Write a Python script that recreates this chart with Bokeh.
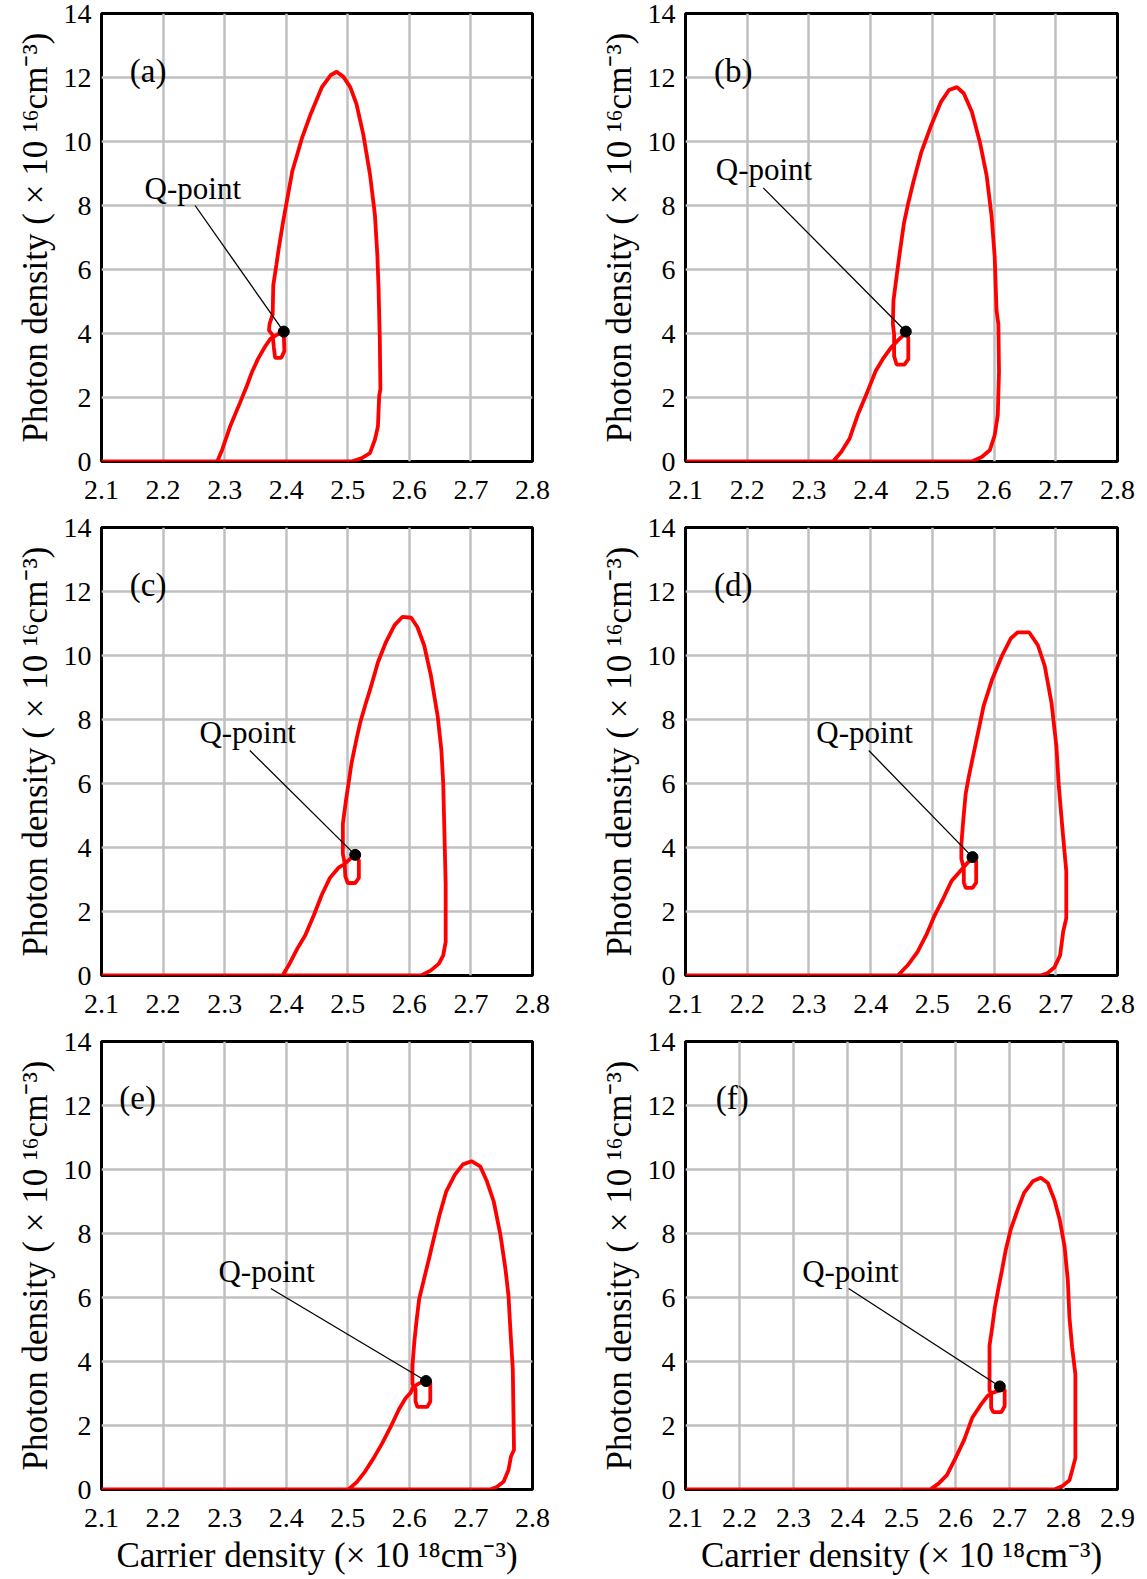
from bokeh.plotting import figure
from bokeh.layouts import column, row
from bokeh.models import FixedTicker
from bokeh.core.properties import value
from bokeh.embed import file_html
from bokeh.resources import INLINE

FONT = "Liberation Serif"

# ---------------- data ----------------
y_ticks = [0, 2, 4, 6, 8, 10, 12, 14]
x_ticks_28 = [2.1, 2.2, 2.3, 2.4, 2.5, 2.6, 2.7, 2.8]
x_ticks_29 = [2.1, 2.2, 2.3, 2.4, 2.5, 2.6, 2.7, 2.8, 2.9]

x_label = "Carrier density (\u00d7 10 \u00b9\u2078cm\u207b\u00b3)"
y_label = "Photon density ( \u00d7 10 \u00b9\u2076cm\u207b\u00b3)"
tags = ["(a)", "(b)", "(c)", "(d)", "(e)", "(f)"]

# panel (a)
xa = [2.1, 2.288, 2.296, 2.309, 2.325, 2.336, 2.344, 2.354, 2.365, 2.374, 2.386, 2.396, 2.397, 2.392,
      2.382, 2.380, 2.378, 2.372, 2.373, 2.378, 2.379, 2.384, 2.388, 2.395, 2.400, 2.410, 2.418, 2.426,
      2.440, 2.458, 2.472, 2.482, 2.493, 2.504, 2.514, 2.525, 2.536, 2.544, 2.548, 2.550, 2.552, 2.553,
      2.551, 2.549, 2.544, 2.536, 2.522, 2.506, 2.1]
ya = [0, 0, 0.37, 1.10, 1.84, 2.36, 2.78, 3.20, 3.57, 3.83, 3.97, 4.06, 3.45, 3.24,
      3.24, 3.55, 3.95, 4.10, 4.30, 4.60, 5.51, 6.14, 6.67, 7.50, 8.03, 9.08, 9.60, 10.13,
      10.87, 11.70, 12.07, 12.18, 12.02, 11.70, 11.18, 10.24, 8.98, 7.72, 6.46, 5.41, 3.83, 2.26,
      2.05, 1.10, 0.68, 0.26, 0.10, 0, 0]

# panel (b)
xb = [2.1, 2.339, 2.352, 2.366, 2.379, 2.395, 2.408, 2.421, 2.433, 2.445, 2.457, 2.461, 2.461, 2.455,
      2.442, 2.438, 2.438, 2.436, 2.437, 2.442, 2.447, 2.454, 2.461, 2.469, 2.482, 2.498, 2.514, 2.527,
      2.540, 2.551, 2.564, 2.577, 2.588, 2.596, 2.601, 2.604, 2.607, 2.608, 2.606, 2.601, 2.593, 2.580,
      2.564, 2.1]
yb = [0, 0, 0.29, 0.72, 1.45, 2.19, 2.82, 3.24, 3.56, 3.80, 4.02, 3.87, 3.20, 3.03,
      3.03, 3.30, 3.98, 4.30, 5.03, 5.77, 6.50, 7.45, 8.08, 8.72, 9.66, 10.50, 11.24, 11.61,
      11.70, 11.50, 10.93, 9.98, 8.93, 7.66, 6.40, 4.72, 4.29, 2.82, 1.45, 0.82, 0.35, 0.14,
      0, 0]

# panel (c)
xc = [2.1, 2.394, 2.404, 2.418, 2.431, 2.445, 2.458, 2.471, 2.485, 2.494, 2.503, 2.512, 2.518, 2.518,
      2.512, 2.500, 2.496, 2.495, 2.492, 2.492, 2.497, 2.502, 2.506, 2.514, 2.520, 2.528, 2.538, 2.549,
      2.562, 2.576, 2.589, 2.603, 2.613, 2.624, 2.635, 2.646, 2.652, 2.655, 2.657, 2.659, 2.659, 2.655,
      2.648, 2.635, 2.619, 2.1]
yc = [0, 0, 0.32, 0.84, 1.26, 1.89, 2.53, 3.05, 3.37, 3.47, 3.63, 3.77, 3.60, 3.05,
      2.89, 2.89, 3.10, 3.50, 3.80, 4.74, 5.47, 6.10, 6.63, 7.37, 7.89, 8.42, 9.05, 9.79,
      10.42, 10.95, 11.21, 11.18, 10.89, 10.32, 9.37, 8.10, 7.05, 6.00, 4.42, 2.84, 1.05, 0.63,
      0.37, 0.16, 0, 0]

# panel (d)
xd = [2.1, 2.444, 2.460, 2.476, 2.490, 2.504, 2.518, 2.531, 2.545, 2.555, 2.565, 2.571, 2.571, 2.565,
      2.554, 2.551, 2.551, 2.547, 2.547, 2.550, 2.554, 2.559, 2.567, 2.575, 2.583, 2.597, 2.613, 2.627,
      2.638, 2.657, 2.671, 2.682, 2.693, 2.701, 2.705, 2.712, 2.717, 2.717, 2.712, 2.707, 2.698, 2.687,
      2.676, 2.1]
yd = [0, 0, 0.32, 0.74, 1.26, 1.89, 2.42, 2.95, 3.26, 3.48, 3.68, 3.58, 2.90, 2.74,
      2.74, 2.90, 3.35, 3.65, 4.10, 4.84, 5.68, 6.21, 6.95, 7.68, 8.42, 9.26, 10.00, 10.53,
      10.72, 10.72, 10.32, 9.68, 8.53, 7.16, 5.89, 4.32, 3.26, 1.79, 1.37, 0.63, 0.26, 0.08,
      0, 0]

# panel (e)
xe = [2.1, 2.501, 2.515, 2.528, 2.542, 2.556, 2.570, 2.583, 2.594, 2.602, 2.606, 2.616, 2.627, 2.634,
      2.634, 2.629, 2.613, 2.610, 2.610, 2.605, 2.605, 2.608, 2.612, 2.616, 2.624, 2.632, 2.641, 2.649,
      2.660, 2.674, 2.687, 2.701, 2.715, 2.726, 2.737, 2.748, 2.756, 2.761, 2.764, 2.768, 2.770, 2.765,
      2.761, 2.753, 2.742, 2.731, 2.1]
ye = [0, 0, 0.24, 0.56, 0.98, 1.45, 1.97, 2.50, 2.86, 3.02, 3.20, 3.32, 3.39, 3.35,
      2.75, 2.58, 2.58, 2.75, 3.15, 3.30, 3.86, 4.60, 5.33, 5.96, 6.59, 7.22, 7.95, 8.58,
      9.32, 9.84, 10.16, 10.26, 10.10, 9.63, 9.00, 7.95, 6.90, 6.06, 5.02, 3.76, 1.24, 1.03,
      0.61, 0.24, 0.08, 0, 0]

# panel (f)
xf = [2.1, 2.553, 2.569, 2.584, 2.600, 2.616, 2.631, 2.647, 2.659, 2.668, 2.682, 2.691, 2.691, 2.685,
      2.670, 2.666, 2.666, 2.663, 2.663, 2.668, 2.673, 2.680, 2.686, 2.693, 2.702, 2.715, 2.727, 2.743,
      2.758, 2.771, 2.783, 2.793, 2.802, 2.808, 2.811, 2.816, 2.822, 2.822, 2.817, 2.811, 2.799, 2.783,
      2.1]
yf = [0, 0, 0.19, 0.45, 0.98, 1.55, 2.24, 2.65, 2.92, 3.02, 3.10, 3.13, 2.60, 2.42,
      2.42, 2.55, 2.97, 3.10, 4.49, 5.07, 5.70, 6.33, 6.85, 7.48, 8.11, 8.74, 9.27, 9.63,
      9.74, 9.58, 9.06, 8.43, 7.59, 6.54, 5.38, 4.44, 3.60, 0.98, 0.66, 0.29, 0.12, 0,
      0]

curves_x = [xa, xb, xc, xd, xe, xf]
curves_y = [ya, yb, yc, yd, ye, yf]
x_ends = [2.8, 2.8, 2.8, 2.8, 2.8, 2.9]

# Q-point (operating point) and its annotation
q_x = [2.396, 2.457, 2.512, 2.565, 2.627, 2.682]
q_y = [4.06, 4.06, 3.77, 3.70, 3.39, 3.22]
q_text_x = [2.170, 2.149, 2.259, 2.312, 2.290, 2.316]
q_text_y = [8.52, 9.12, 7.60, 7.60, 6.81, 6.81]
q_lead_x = [2.252, 2.226, 2.341, 2.397, 2.375, 2.402]
q_lead_y = [8.00, 8.55, 7.03, 7.03, 6.28, 6.28]

tag_x = [2.146, 2.146, 2.146, 2.146, 2.129, 2.156]
tag_y = [12.2, 12.2, 12.2, 12.2, 12.24, 12.24]

for cx, cy in zip(curves_x, curves_y):
    assert len(cx) == len(cy), (len(cx), len(cy))


def make_panel(i):
    col_idx = i % 2
    row_idx = i // 2
    last_row = row_idx == 2
    left = 101 if col_idx == 0 else 95
    right = 58 if col_idx == 0 else 22
    frame_w = 431 if col_idx == 0 else 432
    top = 13 if row_idx == 0 else 16
    frame_h = 448
    bottom = 88 if last_row else 50
    p = figure(frame_width=frame_w, frame_height=frame_h,
               x_range=(2.1, x_ends[i]), y_range=(0, 14),
               output_backend="svg", toolbar_location=None,
               min_border_left=left, min_border_right=right,
               min_border_top=top, min_border_bottom=bottom)
    p.background_fill_color = "white"
    p.border_fill_color = "white"
    p.outline_line_color = "black"
    p.outline_line_width = 3
    p.xaxis.ticker = FixedTicker(ticks=x_ticks_29 if x_ends[i] > 2.85 else x_ticks_28)
    p.yaxis.ticker = FixedTicker(ticks=y_ticks)
    for ax in (p.xaxis[0], p.yaxis[0]):
        ax.axis_line_color = None
        ax.major_tick_line_color = None
        ax.minor_tick_line_color = None
        ax.major_label_text_font = FONT
        ax.major_label_text_font_size = "28px"
        ax.major_label_text_color = "black"
        ax.axis_label_text_font = FONT
        ax.axis_label_text_font_size = "35px"
        ax.axis_label_text_font_style = "normal"
        ax.axis_label_text_color = "black"
    p.yaxis.major_label_standoff = 4
    p.xaxis.major_label_standoff = 13
    p.yaxis.axis_label = y_label
    p.yaxis.axis_label_standoff = 6
    if last_row:
        p.xaxis.axis_label = x_label
        p.xaxis.axis_label_standoff = 6
    p.grid.grid_line_color = "#c0c0c0"
    p.grid.grid_line_width = 2.5

    p.line(curves_x[i], curves_y[i], line_color="#ff0000", line_width=3.8)
    p.line([q_lead_x[i], q_x[i]], [q_lead_y[i], q_y[i]], line_color="black", line_width=1.3)
    p.scatter([q_x[i]], [q_y[i]], size=11, color="black")
    p.text([q_text_x[i]], [q_text_y[i]], text=["Q-point"], text_font=value(FONT),
           text_font_size="31px", text_baseline="middle", text_align="left", text_color="black")
    p.text([tag_x[i]], [tag_y[i]], text=[tags[i]], text_font=value(FONT),
           text_font_size="33px", text_baseline="middle", text_align="left", text_color="black")
    return p


panels = [make_panel(i) for i in range(6)]
layout = column(row(panels[0], panels[1]), row(panels[2], panels[3]), row(panels[4], panels[5]))

open("out.html", "w").write(file_html(layout, INLINE))
